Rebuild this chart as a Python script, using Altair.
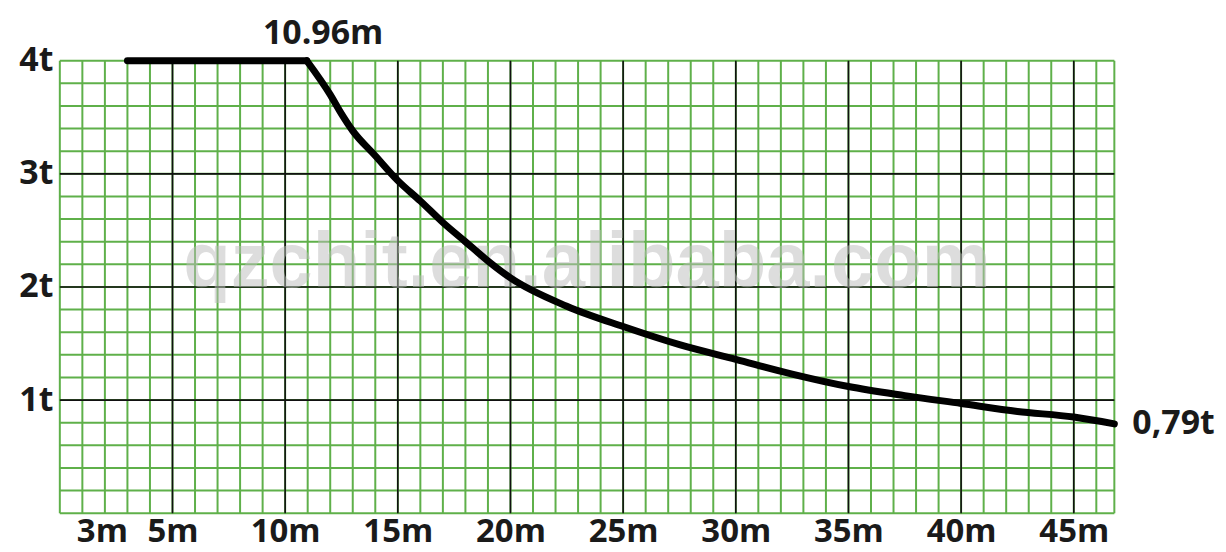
import altair as alt
import pandas as pd

# Load curve (radius in m, load in t)
radius = [3, 10.96, 12, 12.5, 13, 14, 15, 16, 17, 18, 19, 20, 22.5, 25, 27.5,
          30, 32.5, 35, 37.5, 40, 42.5, 45, 46.8]
load = [4, 4, 3.70, 3.53, 3.38, 3.16, 2.94, 2.76, 2.57, 2.40, 2.23, 2.08, 1.83,
        1.65, 1.49, 1.36, 1.23, 1.12, 1.04, 0.97, 0.90, 0.85, 0.79]

x_ticks = [3, 5, 10, 15, 20, 25, 30, 35, 40, 45]
y_ticks = [1, 2, 3, 4]
x_minor = list(range(0, 47)) + [46.8]
x_major = [5, 10, 15, 20, 25, 30, 35, 40, 45]
y_minor = [round(i * 0.2, 1) for i in range(0, 21)]
y_major = [1, 2, 3]

annot_text = ["10.96m", "0,79t"]
annot_x = [10.96, 46.8]
annot_y = [4, 0.79]

X_MAX = 46.8
Y_MAX = 4
KNEE = 10.96
W, H = 1058, 454
FONT = "Open Sans"

xs = alt.Scale(domain=[0, X_MAX], nice=False, zero=False)
ys = alt.Scale(domain=[0, Y_MAX], nice=False, zero=False)

X_AXIS = alt.Axis(values=x_ticks, labelExpr="datum.value + 'm'",
                  title=None, grid=False, ticks=False, domain=False,
                  labelFont=FONT, labelFontWeight="bold", labelFontSize=33,
                  labelColor="#1a1a1a", labelPadding=2, labelOverlap=False,
                  labelFlush=False,
                  labelAlign={"condition": {"test": "datum.value == 3", "value": "right"},
                              "value": "center"})
Y_AXIS = alt.Axis(values=y_ticks, labelExpr="datum.value + 't'",
                  title=None, grid=False, ticks=False, domain=False,
                  labelFont=FONT, labelFontWeight="bold", labelFontSize=34,
                  labelColor="#1a1a1a", labelPadding=7, labelFlush=False,
                  labelOverlap=False)

curve = pd.DataFrame({"r": radius, "t": load})

green = "#5fb04a"

vminor = alt.Chart(pd.DataFrame({"x": x_minor})).mark_rule(
    color=green, strokeWidth=2).encode(x=alt.X("x:Q", scale=xs, axis=X_AXIS))
hminor = alt.Chart(pd.DataFrame({"y": y_minor})).mark_rule(
    color=green, strokeWidth=2).encode(y=alt.Y("y:Q", scale=ys, axis=Y_AXIS))
vmajor = alt.Chart(pd.DataFrame({"x": x_major})).mark_rule(
    color="#111111", strokeWidth=1.6).encode(x=alt.X("x:Q", scale=xs, axis=X_AXIS))
hmajor = alt.Chart(pd.DataFrame({"y": y_major})).mark_rule(
    color="#111111", strokeWidth=1.6).encode(y=alt.Y("y:Q", scale=ys, axis=Y_AXIS))

watermark = alt.Chart(pd.DataFrame({"t": ["qzchit.en.alibaba.com"]})).mark_text(
    font="Liberation Sans", fontWeight="bold", fontSize=78, color="#bdbdbd",
    opacity=0.5, align="center", baseline="middle"
).encode(x=alt.value(W * 0.5), y=alt.value(H * 0.45), text="t:N")

flat = alt.Chart(curve).transform_filter(alt.datum.r <= KNEE).mark_line(
    color="#000000", strokeWidth=7, strokeCap="round", strokeJoin="round"
).encode(x=alt.X("r:Q", scale=xs, axis=X_AXIS), y=alt.Y("t:Q", scale=ys, axis=Y_AXIS))
drop = alt.Chart(curve).transform_filter(alt.datum.r >= KNEE).mark_line(
    color="#000000", strokeWidth=7, strokeCap="round", strokeJoin="round",
    interpolate="monotone"
).encode(x=alt.X("r:Q", scale=xs, axis=X_AXIS), y=alt.Y("t:Q", scale=ys, axis=Y_AXIS))

ann = pd.DataFrame({"x": annot_x, "y": annot_y, "label": annot_text})
ann1 = alt.Chart(ann.iloc[[0]]).mark_text(
    font=FONT, fontWeight="bold", fontSize=34, color="#1a1a1a",
    align="left", baseline="alphabetic", dx=-44, dy=-17
).encode(x=alt.X("x:Q", scale=xs, axis=X_AXIS), y=alt.Y("y:Q", scale=ys, axis=Y_AXIS),
         text="label:N")
ann2 = alt.Chart(ann.iloc[[1]]).mark_text(
    font=FONT, fontWeight="bold", fontSize=34, color="#1a1a1a",
    align="left", baseline="middle", dx=18, dy=0
).encode(x=alt.X("x:Q", scale=xs, axis=X_AXIS), y=alt.Y("y:Q", scale=ys, axis=Y_AXIS),
         text="label:N")

chart = alt.layer(vminor, hminor, vmajor, hmajor, watermark, flat, drop, ann1, ann2).properties(
    width=W, height=H,
    autosize=alt.AutoSizeParams(type="none"),
    padding={"left": 52, "top": 52, "right": 104, "bottom": 38},
    background="white",
).configure_view(stroke=None)

chart.save("out.html", embed_options={"renderer": "svg", "actions": False})
